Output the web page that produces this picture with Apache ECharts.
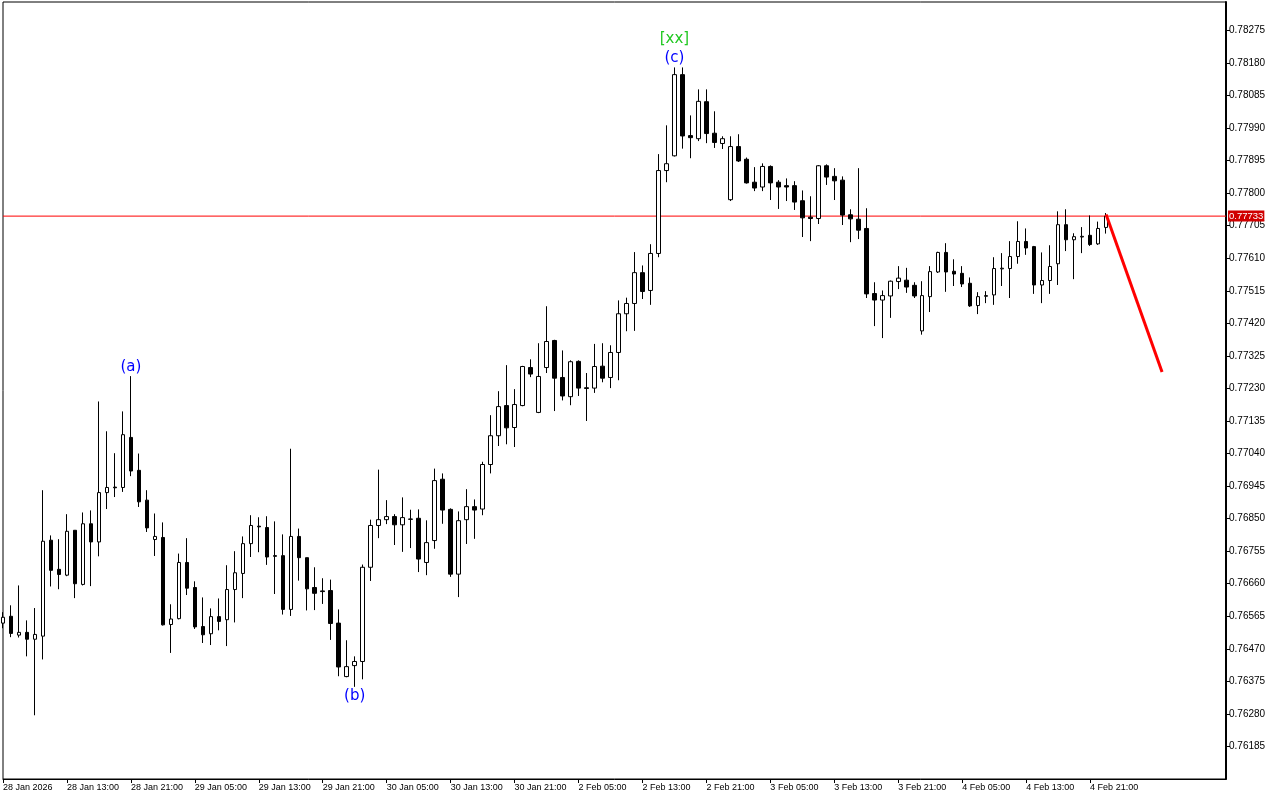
<!DOCTYPE html>
<html>
<head>
<meta charset="utf-8">
<script src="https://cdn.jsdelivr.net/npm/echarts@6/dist/echarts.min.js"></script>
<style>
html,body{margin:0;padding:0;background:#fff;}
#chart{width:1280px;height:800px;}
</style>
</head>
<body>
<div id="chart"></div>
<script>
// hourly sessions: [day, first hour, last hour]
var sessions = [['28 Jan', 5, 23], ['29 Jan', 0, 23], ['30 Jan', 0, 23], ['2 Feb', 0, 23], ['3 Feb', 0, 23], ['4 Feb', 0, 23], ['5 Feb', 0, 14]];

var xTickLabels = ['28 Jan 2026', '28 Jan 13:00', '28 Jan 21:00', '29 Jan 05:00', '29 Jan 13:00', '29 Jan 21:00',
  '30 Jan 05:00', '30 Jan 13:00', '30 Jan 21:00', '2 Feb 05:00', '2 Feb 13:00', '2 Feb 21:00',
  '3 Feb 05:00', '3 Feb 13:00', '3 Feb 21:00', '4 Feb 05:00', '4 Feb 13:00', '4 Feb 21:00'];

var yTicks = [0.78275, 0.78180, 0.78085, 0.77990, 0.77895, 0.77800, 0.77705, 0.77610, 0.77515, 0.77420,
  0.77325, 0.77230, 0.77135, 0.77040, 0.76945, 0.76850, 0.76755, 0.76660, 0.76565, 0.76470,
  0.76375, 0.76280, 0.76185];

// [open, close, low, high]
var ohlc = [
  [0.76545, 0.76562, 0.76530, 0.76577], [0.76565, 0.76515, 0.76504, 0.76597], [0.76510, 0.76518, 0.76503, 0.76655],
  [0.76518, 0.76498, 0.76448, 0.76553], [0.76498, 0.76512, 0.76276, 0.76589], [0.76507, 0.76784, 0.76439, 0.76933],
  [0.76787, 0.76699, 0.76652, 0.76801], [0.76702, 0.76687, 0.76644, 0.76790], [0.76685, 0.76813, 0.76682, 0.76863],
  [0.76816, 0.76660, 0.76618, 0.76816], [0.76658, 0.76835, 0.76655, 0.76868], [0.76835, 0.76782, 0.76653, 0.76874],
  [0.76782, 0.76926, 0.76740, 0.77192], [0.76926, 0.76941, 0.76878, 0.77105], [0.76942, 0.76940, 0.76913, 0.77041],
  [0.76941, 0.77095, 0.76928, 0.77163], [0.77087, 0.76989, 0.76974, 0.77266], [0.76991, 0.76899, 0.76884, 0.77040],
  [0.76904, 0.76823, 0.76811, 0.76933], [0.76789, 0.76798, 0.76741, 0.76865], [0.76795, 0.76540, 0.76538, 0.76839],
  [0.76541, 0.76557, 0.76458, 0.76600], [0.76558, 0.76722, 0.76556, 0.76748], [0.76722, 0.76647, 0.76627, 0.76793],
  [0.76649, 0.76534, 0.76528, 0.76667], [0.76535, 0.76511, 0.76487, 0.76620], [0.76514, 0.76564, 0.76481, 0.76588],
  [0.76564, 0.76550, 0.76524, 0.76617], [0.76555, 0.76643, 0.76478, 0.76714], [0.76643, 0.76692, 0.76547, 0.76755],
  [0.76690, 0.76777, 0.76618, 0.76798], [0.76777, 0.76830, 0.76738, 0.76860], [0.76828, 0.76826, 0.76752, 0.76854],
  [0.76824, 0.76738, 0.76715, 0.76857], [0.76742, 0.76740, 0.76630, 0.76842], [0.76742, 0.76585, 0.76570, 0.76804],
  [0.76585, 0.76798, 0.76566, 0.77054], [0.76798, 0.76736, 0.76669, 0.76821], [0.76736, 0.76645, 0.76582, 0.76736],
  [0.76649, 0.76632, 0.76583, 0.76708], [0.76639, 0.76637, 0.76601, 0.76676], [0.76640, 0.76544, 0.76496, 0.76672],
  [0.76545, 0.76417, 0.76390, 0.76585], [0.76389, 0.76418, 0.76387, 0.76495], [0.76421, 0.76433, 0.76359, 0.76448],
  [0.76433, 0.76708, 0.76381, 0.76716], [0.76708, 0.76830, 0.76668, 0.76847], [0.76830, 0.76847, 0.76793, 0.76993],
  [0.76847, 0.76856, 0.76834, 0.76904], [0.76856, 0.76832, 0.76773, 0.76863], [0.76832, 0.76853, 0.76753, 0.76912],
  [0.76849, 0.76848, 0.76764, 0.76876], [0.76851, 0.76732, 0.76694, 0.76877], [0.76722, 0.76780, 0.76685, 0.76845],
  [0.76786, 0.76961, 0.76762, 0.76996], [0.76965, 0.76875, 0.76835, 0.76982], [0.76877, 0.76688, 0.76680, 0.76880],
  [0.76688, 0.76844, 0.76621, 0.76871], [0.76847, 0.76885, 0.76776, 0.76936], [0.76885, 0.76875, 0.76791, 0.76906],
  [0.76878, 0.77008, 0.76860, 0.77016], [0.77008, 0.77092, 0.76982, 0.77152], [0.77092, 0.77177, 0.77062, 0.77222],
  [0.77180, 0.77115, 0.77067, 0.77298], [0.77116, 0.77183, 0.77059, 0.77228], [0.77180, 0.77294, 0.77178, 0.77296],
  [0.77291, 0.77272, 0.77263, 0.77315], [0.77160, 0.77265, 0.77158, 0.77362], [0.77291, 0.77367, 0.77275, 0.77470],
  [0.77370, 0.77260, 0.77164, 0.77372], [0.77262, 0.77208, 0.77195, 0.77341], [0.77206, 0.77308, 0.77181, 0.77312],
  [0.77309, 0.77231, 0.77208, 0.77312], [0.77232, 0.77230, 0.77135, 0.77275], [0.77231, 0.77294, 0.77217, 0.77360],
  [0.77295, 0.77260, 0.77248, 0.77362], [0.77262, 0.77335, 0.77231, 0.77356], [0.77335, 0.77448, 0.77254, 0.77487],
  [0.77448, 0.77478, 0.77397, 0.77495], [0.77478, 0.77568, 0.77398, 0.77628], [0.77568, 0.77513, 0.77491, 0.77589],
  [0.77516, 0.77624, 0.77474, 0.77651], [0.77624, 0.77866, 0.77613, 0.77914], [0.77866, 0.77886, 0.77832, 0.77998],
  [0.77909, 0.78146, 0.77907, 0.78167], [0.78146, 0.77967, 0.77930, 0.78167], [0.77968, 0.77962, 0.77902, 0.78027],
  [0.77959, 0.78068, 0.77952, 0.78103], [0.78067, 0.77974, 0.77946, 0.78103], [0.77975, 0.77948, 0.77932, 0.78039],
  [0.77945, 0.77959, 0.77929, 0.77966], [0.77781, 0.77936, 0.77777, 0.77966], [0.77936, 0.77894, 0.77891, 0.77972],
  [0.77899, 0.77830, 0.77828, 0.77904], [0.77832, 0.77815, 0.77806, 0.77876], [0.77818, 0.77878, 0.77806, 0.77887],
  [0.77878, 0.77830, 0.77780, 0.77881], [0.77832, 0.77818, 0.77754, 0.77838], [0.77822, 0.77818, 0.77777, 0.77843],
  [0.77822, 0.77774, 0.77751, 0.77835], [0.77778, 0.77728, 0.77672, 0.77808], [0.77730, 0.77726, 0.77660, 0.77791],
  [0.77726, 0.77880, 0.77710, 0.77882], [0.77880, 0.77847, 0.77824, 0.77884], [0.77849, 0.77836, 0.77780, 0.77873],
  [0.77838, 0.77736, 0.77707, 0.77849], [0.77737, 0.77725, 0.77657, 0.77753], [0.77724, 0.77692, 0.77666, 0.77873],
  [0.77697, 0.77506, 0.77494, 0.77756], [0.77507, 0.77488, 0.77412, 0.77540], [0.77488, 0.77501, 0.77377, 0.77516],
  [0.77500, 0.77543, 0.77436, 0.77545], [0.77542, 0.77552, 0.77520, 0.77587], [0.77546, 0.77526, 0.77509, 0.77582],
  [0.77531, 0.77500, 0.77494, 0.77540], [0.77398, 0.77501, 0.77387, 0.77543], [0.77498, 0.77571, 0.77453, 0.77587],
  [0.77570, 0.77627, 0.77567, 0.77629], [0.77627, 0.77570, 0.77512, 0.77654], [0.77572, 0.77564, 0.77529, 0.77607],
  [0.77566, 0.77535, 0.77526, 0.77587], [0.77537, 0.77471, 0.77468, 0.77554], [0.77472, 0.77498, 0.77447, 0.77511],
  [0.77499, 0.77501, 0.77479, 0.77514], [0.77503, 0.77580, 0.77474, 0.77613], [0.77579, 0.77581, 0.77529, 0.77625],
  [0.77580, 0.77615, 0.77494, 0.77660], [0.77615, 0.77659, 0.77594, 0.77718], [0.77659, 0.77640, 0.77620, 0.77697],
  [0.77644, 0.77532, 0.77506, 0.77646], [0.77532, 0.77545, 0.77479, 0.77627], [0.77545, 0.77586, 0.77506, 0.77648],
  [0.77594, 0.77708, 0.77532, 0.77747], [0.77708, 0.77664, 0.77631, 0.77753], [0.77664, 0.77673, 0.77549, 0.77683],
  [0.77672, 0.77674, 0.77625, 0.77701], [0.77677, 0.77650, 0.77646, 0.77735], [0.77652, 0.77697, 0.77649, 0.77717],
  [0.77700, 0.77733, 0.77682, 0.77742]
];

var lastPrice = 0.77733;
var forecast = [[138, 0.77738], [145, 0.77278]];

// wave marks: [bar index, price, text, colour]
var waveLabels = [
  [16, 0.77292, '(a)', '#0000ff'],
  [44, 0.76331, '(b)', '#0000ff'],
  [84, 0.78194, '(c)', '#0000ff'],
  [84, 0.78249, '[xx]', '#22c822']
];

var categories = [];
sessions.forEach(function (s) {
  for (var h = s[1]; h <= s[2]; h++) {
    categories.push(s[0] + ' ' + (h < 10 ? '0' : '') + h + ':00');
  }
});

function tickShown(index) {
  return index % 8 === 0 && index / 8 < xTickLabels.length;
}

var chart = echarts.init(document.getElementById('chart'));
var fontFamily = '"Liberation Sans", Arial, sans-serif';

chart.setOption({
  animation: false,
  backgroundColor: '#ffffff',
  grid: {
    left: 2, top: 2, width: 1224, height: 777,
    show: true, borderColor: '#000', borderWidth: 1, backgroundColor: '#fff'
  },
  xAxis: {
    type: 'category',
    data: categories,
    boundaryGap: false,
    axisLine: { lineStyle: { color: '#000', width: 1 } },
    axisTick: { interval: tickShown, length: 4, lineStyle: { color: '#000' } },
    axisLabel: {
      interval: tickShown,
      formatter: function (v, i) { return xTickLabels[i / 8]; },
      align: 'left', margin: 4, color: '#000', fontSize: 9, fontFamily: fontFamily
    },
    splitLine: { show: false }
  },
  yAxis: {
    type: 'value',
    position: 'right',
    min: 0.76090,
    max: 0.78358,
    axisLine: { show: true, lineStyle: { color: '#000', width: 2 } },
    axisTick: { show: true, customValues: yTicks, length: 4, lineStyle: { color: '#000' } },
    axisLabel: {
      customValues: yTicks,
      formatter: function (v) { return v.toFixed(5); },
      margin: 3, color: '#000', fontSize: 10, fontFamily: fontFamily
    },
    splitLine: { show: false }
  },
  series: [
    {
      // current price line across the whole plot
      type: 'line',
      data: [[0, lastPrice], [categories.length - 1, lastPrice]],
      symbol: 'none',
      silent: true,
      lineStyle: { color: '#ff0000', width: 1 },
      endLabel: {
        show: true, distance: 2,
        formatter: lastPrice.toFixed(5),
        color: '#fff', backgroundColor: '#d00000',
        padding: [1, 1, 0, 1], fontSize: 9.5, fontFamily: fontFamily
      },
      z: 1
    },
    {
      type: 'candlestick',
      data: ohlc,
      barWidth: 4,
      itemStyle: {
        color: '#ffffff', color0: '#000000',
        borderColor: '#000000', borderColor0: '#000000', borderWidth: 1
      },
      z: 3
    },
    {
      type: 'line',
      data: forecast,
      symbol: 'none',
      lineStyle: { color: '#ff0000', width: 3 },
      z: 5
    },
    {
      type: 'scatter',
      symbolSize: 1,
      itemStyle: { color: 'rgba(0,0,0,0)', opacity: 1 },
      data: waveLabels.map(function (w) {
        return {
          value: [w[0], w[1]], name: w[2],
          label: { color: w[3] }
        };
      }),
      label: {
        show: true, position: 'inside', formatter: '{b}',
        fontSize: 15, fontFamily: '"DejaVu Sans", sans-serif'
      },
      z: 6
    }
  ]
});
</script>
</body>
</html>
